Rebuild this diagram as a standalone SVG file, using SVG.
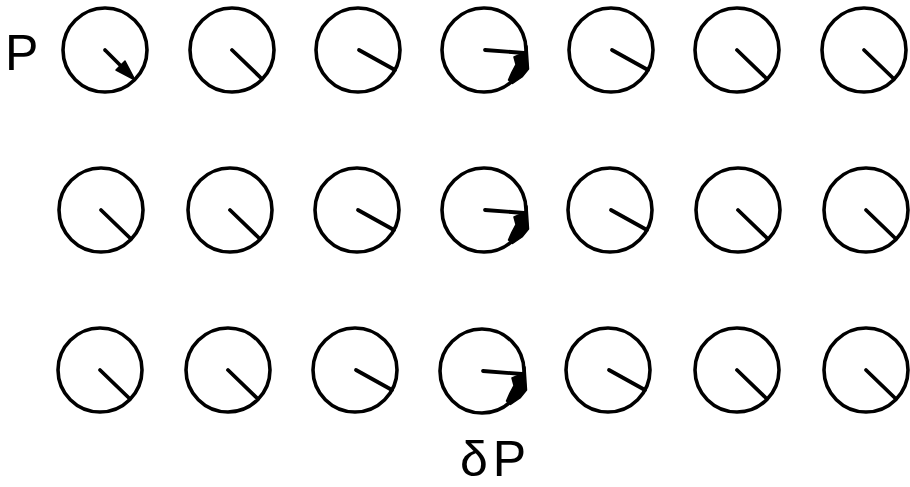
<svg xmlns="http://www.w3.org/2000/svg" xmlns:xlink="http://www.w3.org/1999/xlink" width="910" height="487" viewBox="0 0 910 487">
  <style>
    .dial circle { fill: none; stroke: #000; stroke-width: 3.6; }
    .hand { fill: none; stroke: #000; stroke-width: 3.8; stroke-linecap: round; }
    .blob { fill: #000; stroke: #000; stroke-width: 1.5; stroke-linejoin: round; }
    .label { font-family: "Liberation Sans", "DejaVu Sans", sans-serif; font-size: 50px; fill: #000; }
  </style>
  <defs>
    <g id="hand45"><line class="hand" x1="0" y1="0" x2="30" y2="29"/></g>
    <g id="hand28"><line class="hand" x1="1" y1="0" x2="37" y2="20"/></g>
    <g id="handArrow">
      <line class="hand" x1="0" y1="0" x2="20" y2="20"/>
      <polygon class="blob" points="30,30 11,20 20,11"/>
    </g>
    <g id="handSweep">
      <line class="hand" x1="1" y1="0" x2="40" y2="3"/>
      <polygon class="blob" points="43,-4 44.5,19 38,27 28.5,33.5 24.5,30 28,22 32,14.5 30,7 36,4.5 41,4"/>
    </g>
  </defs>

  <text class="label" x="5" y="70">P</text>
  <text class="label" x="460" y="476" letter-spacing="5">δP</text>

  <g id="connectors"></g>

  <!-- Row 1 -->
  <g id="dial-r1-c1" class="dial" transform="translate(105,50)"><circle r="42"/><use href="#handArrow"/></g>
  <g id="dial-r1-c2" class="dial" transform="translate(232,50)"><circle r="42"/><use href="#hand45"/></g>
  <g id="dial-r1-c3" class="dial" transform="translate(358,50)"><circle r="42"/><use href="#hand28"/></g>
  <g id="dial-r1-c4" class="dial" transform="translate(484,50)"><circle r="42"/><use href="#handSweep"/></g>
  <g id="dial-r1-c5" class="dial" transform="translate(611,50)"><circle r="42"/><use href="#hand28"/></g>
  <g id="dial-r1-c6" class="dial" transform="translate(737,50)"><circle r="42"/><use href="#hand45"/></g>
  <g id="dial-r1-c7" class="dial" transform="translate(864,50)"><circle r="42"/><use href="#hand45"/></g>

  <!-- Row 2 -->
  <g id="dial-r2-c1" class="dial" transform="translate(101,210)"><circle r="42"/><use href="#hand45"/></g>
  <g id="dial-r2-c2" class="dial" transform="translate(230,210)"><circle r="42"/><use href="#hand45"/></g>
  <g id="dial-r2-c3" class="dial" transform="translate(357,210)"><circle r="42"/><use href="#hand28"/></g>
  <g id="dial-r2-c4" class="dial" transform="translate(484,210)"><circle r="42"/><use href="#handSweep"/></g>
  <g id="dial-r2-c5" class="dial" transform="translate(610,210)"><circle r="42"/><use href="#hand28"/></g>
  <g id="dial-r2-c6" class="dial" transform="translate(738,210)"><circle r="42"/><use href="#hand45"/></g>
  <g id="dial-r2-c7" class="dial" transform="translate(866,210)"><circle r="42"/><use href="#hand45"/></g>

  <!-- Row 3 -->
  <g id="dial-r3-c1" class="dial" transform="translate(100,370)"><circle r="42"/><use href="#hand45"/></g>
  <g id="dial-r3-c2" class="dial" transform="translate(228,370)"><circle r="42"/><use href="#hand45"/></g>
  <g id="dial-r3-c3" class="dial" transform="translate(355,370)"><circle r="42"/><use href="#hand28"/></g>
  <g id="dial-r3-c4" class="dial" transform="translate(482,371)"><circle r="42"/><use href="#handSweep"/></g>
  <g id="dial-r3-c5" class="dial" transform="translate(608,370)"><circle r="42"/><use href="#hand28"/></g>
  <g id="dial-r3-c6" class="dial" transform="translate(737,370)"><circle r="42"/><use href="#hand45"/></g>
  <g id="dial-r3-c7" class="dial" transform="translate(866,370)"><circle r="42"/><use href="#hand45"/></g>
</svg>
